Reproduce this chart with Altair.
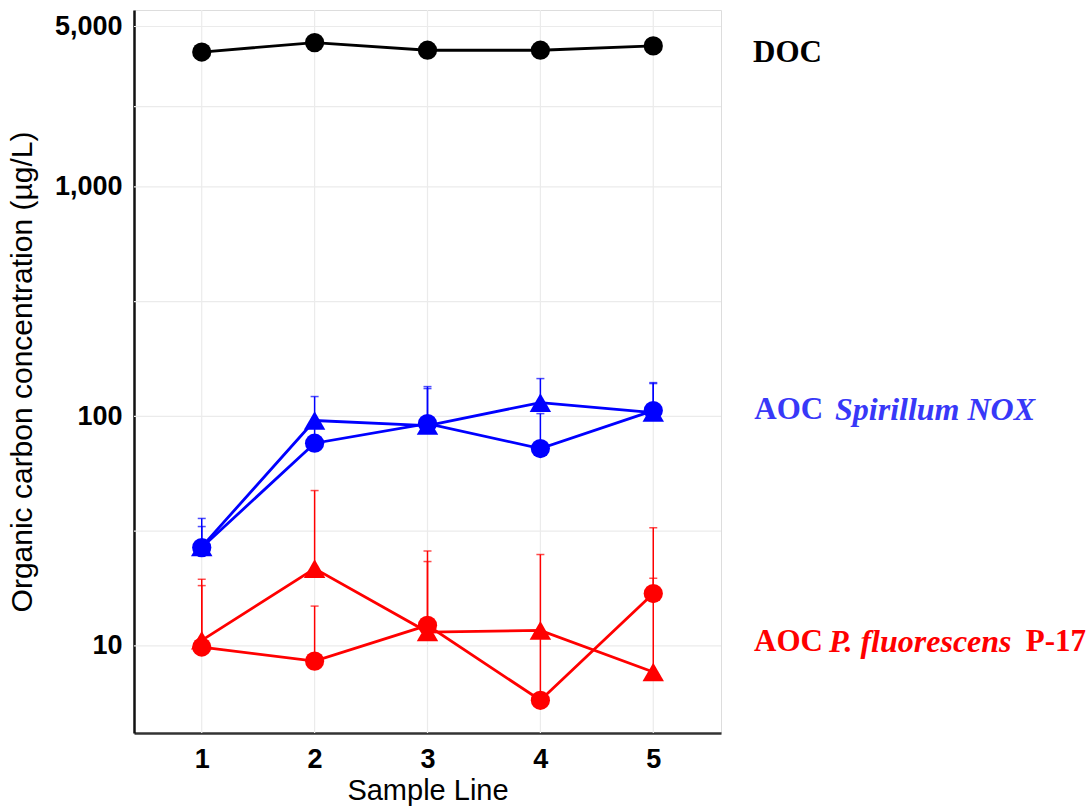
import altair as alt
import pandas as pd

# ---- data ----
sample_line = [1, 2, 3, 4, 5]
doc = [3870, 4255, 3940, 3940, 4115]
nox_circle = [26.8, 76.4, 93.0, 72.4, 106.0]
nox_circle_upper = [33.1, 93.0, 132.2, 102.8, 139.0]
nox_triangle = [27.0, 95.9, 91.2, 114.8, 103.9]
nox_triangle_upper = [35.9, 122.0, 134.8, 146.1, 140.3]
p17_circle = [9.88, 8.58, 12.28, 5.79, 16.9]
p17_circle_upper = [18.3, 14.9, 25.9, 11.5, 32.7]
p17_triangle = [10.57, 21.7, 11.48, 11.68, 7.69]
p17_triangle_upper = [19.5, 47.5, 23.3, 25.0, 19.7]

y_ticks = [10, 100, 1000, 5000]
y_minor = [31.6, 316, 2236]

label_text = ["DOC", "AOC", "Spirillum NOX", "AOC", "P. fluorescens", "P-17"]
label_x = [5.884, 5.895, 6.61, 5.893, 6.557, 8.300]
label_y = [3838, 107, 107, 10.35, 10.35, 10.35]
label_style = ["normal", "normal", "italic", "normal", "italic", "normal"]
label_color = ["#000000", "#3838F8", "#3838F8", "#FF0000", "#FF0000", "#FF0000"]

# ---- tables ----
rows = []
series = [
    ("DOC", "circle", doc, None),
    ("NOX_c", "circle", nox_circle, nox_circle_upper),
    ("NOX_t", "triangle", nox_triangle, nox_triangle_upper),
    ("P17_c", "circle", p17_circle, p17_circle_upper),
    ("P17_t", "triangle", p17_triangle, p17_triangle_upper),
]
group_of = {"DOC": "DOC", "NOX_c": "NOX", "NOX_t": "NOX", "P17_c": "P17", "P17_t": "P17"}
for name, shape, vals, ups in series:
    for i, x in enumerate(sample_line):
        rows.append({
            "series": name,
            "group": group_of[name],
            "shape": shape,
            "x": x,
            "value": vals[i],
            "upper": ups[i] if ups is not None else None,
        })
df = pd.DataFrame(rows)
err = df.dropna(subset=["upper"])

grid_y = pd.DataFrame({"y": y_ticks + y_minor})
grid_x = pd.DataFrame({"x": sample_line})
labels = pd.DataFrame({"text": label_text, "x": label_x, "y": label_y,
                       "style": label_style, "color": label_color})

xscale = alt.Scale(domain=[0.4, 5.6], nice=False, zero=False)
yscale = alt.Scale(type="log", domain=[4.17, 5900], nice=False)
color = alt.Color("group:N", scale=alt.Scale(domain=["DOC", "NOX", "P17"],
                                             range=["#000000", "#0000FF", "#FF0000"]),
                  legend=None)

xaxis = alt.Axis(values=sample_line, title="Sample Line", grid=False, ticks=False,
                 tickSize=0, labelFont="Liberation Sans", labelFontWeight="bold",
                 labelFontSize=27, labelColor="#000000", labelPadding=13,
                 titleFont="Liberation Sans", titleFontWeight="normal",
                 titleFontSize=29, titleColor="#000000", titlePadding=4,
                 domainColor="#333333", domainWidth=2.5, format="d")
yaxis = alt.Axis(values=y_ticks, title="Organic carbon concentration (µg/L)",
                 grid=False, ticks=False, tickSize=0, format=",",
                 labelFont="Liberation Sans", labelFontWeight="bold",
                 labelFontSize=27, labelColor="#000000", labelPadding=12,
                 titleFont="Liberation Sans", titleFontWeight="normal",
                 titleFontSize=30, titleColor="#000000", titlePadding=17,
                 domainColor="#111111", domainWidth=2.5)

base = alt.Chart(df)

hgrid = alt.Chart(grid_y).mark_rule(color="#EBEBEB", strokeWidth=1.2).encode(
    y=alt.Y("y:Q", scale=yscale, axis=yaxis))
vgrid = alt.Chart(grid_x).mark_rule(color="#EBEBEB", strokeWidth=1.2).encode(
    x=alt.X("x:Q", scale=xscale, axis=xaxis))

lines = base.mark_line(strokeWidth=2.8).encode(
    x=alt.X("x:Q", scale=xscale, axis=xaxis),
    y=alt.Y("value:Q", scale=yscale, axis=yaxis),
    color=color,
    detail="series:N",
)

bars = alt.Chart(err).mark_rule(strokeWidth=1.5).encode(
    x=alt.X("x:Q", scale=xscale),
    y=alt.Y("value:Q", scale=yscale),
    y2="upper:Q",
    color=color,
)
caps = alt.Chart(err).mark_tick(orient="horizontal", size=8, thickness=1.5).encode(
    x=alt.X("x:Q", scale=xscale),
    y=alt.Y("upper:Q", scale=yscale),
    color=color,
)

points = base.mark_point(filled=True, opacity=1).encode(
    x=alt.X("x:Q", scale=xscale),
    y=alt.Y("value:Q", scale=yscale),
    color=color,
    shape=alt.Shape("shape:N", scale=alt.Scale(domain=["circle", "triangle"],
                                              range=["circle", "triangle-up"]),
                    legend=None),
    size=alt.Size("shape:N", scale=alt.Scale(domain=["circle", "triangle"],
                                            range=[370, 460]), legend=None),
)

lab_normal = alt.Chart(labels).transform_filter(alt.datum.style == "normal").mark_text(
    align="left", baseline="middle", font="Liberation Serif", fontWeight="bold",
    fontSize=31).encode(
    x=alt.X("x:Q", scale=xscale), y=alt.Y("y:Q", scale=yscale),
    text="text:N", color=alt.Color("color:N", scale=None))
lab_italic = alt.Chart(labels).transform_filter(alt.datum.style == "italic").mark_text(
    align="left", baseline="middle", font="Liberation Serif", fontWeight="bold",
    fontStyle="italic", fontSize=32).encode(
    x=alt.X("x:Q", scale=xscale), y=alt.Y("y:Q", scale=yscale),
    text="text:N", color=alt.Color("color:N", scale=None))

chart = alt.layer(hgrid, vgrid, lines, bars, caps, points, lab_normal, lab_italic).properties(
    width=587, height=723,
    autosize=alt.AutoSizeParams(type="none"),
    padding={"left": 134, "top": 10, "right": 371, "bottom": 77},
).configure_view(stroke=None).configure(background="white")

chart.save("out.html", embed_options={"renderer": "svg", "actions": False})
